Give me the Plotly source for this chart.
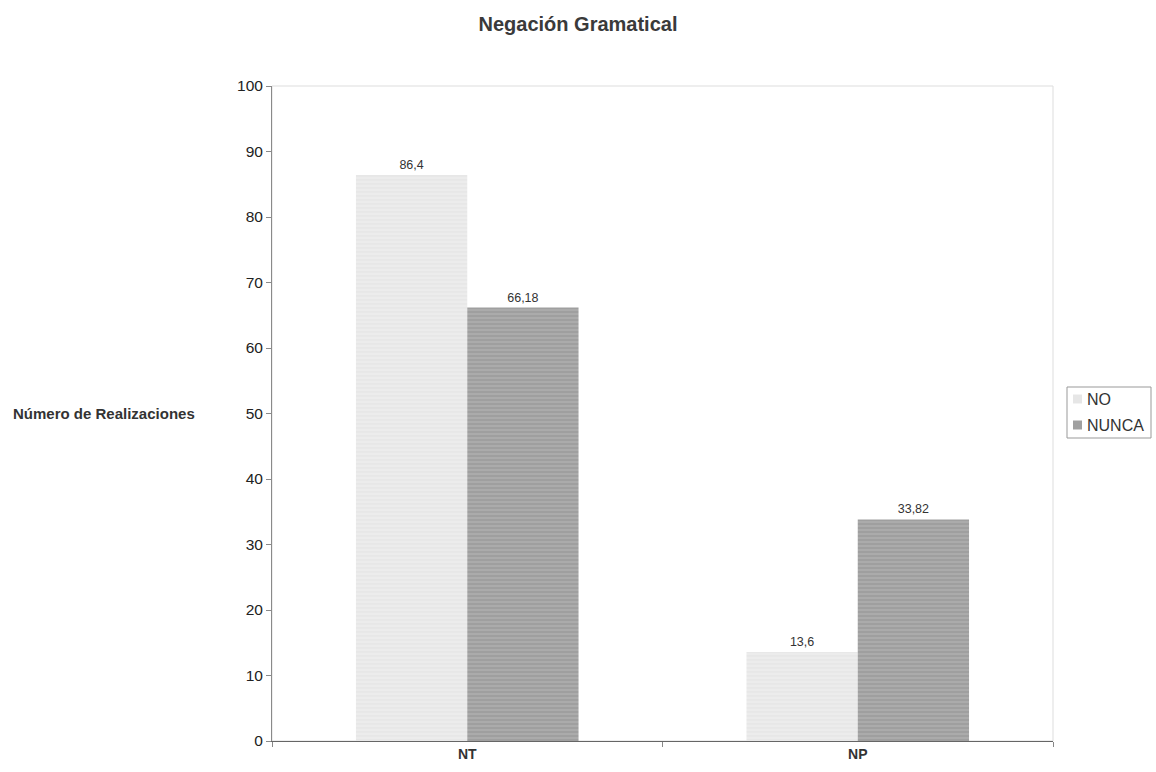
import plotly.graph_objects as go

# Categories and series values
categorias = ["NT", "NP"]
valores_no = [86.4, 13.6]
valores_nunca = [66.18, 33.82]
series = ["NO", "NUNCA"]
colores = ["#e6e6e6", "#a0a0a0"]


def etiqueta(v):
    # Decimal comma, as used in Spanish
    return f"{v:g}".replace(".", ",")


fuente = "Liberation Sans, Arial, sans-serif"

# Plot area in pixels (for placing the compact legend box)
ML, MR, MT, MB = 272, 103, 86, 31
W, H = 1156, 772
PW, PH = W - ML - MR, H - MT - MB


def px_x(p):
    return (p - ML) / PW


def px_y(p):
    return (H - MB - p) / PH


fig = go.Figure()
fig.add_trace(go.Bar(
    name=series[0], x=categorias, y=valores_no,
    text=[etiqueta(v) for v in valores_no], textposition="outside",
    textfont=dict(size=12.5, color="#333333", family=fuente),
    marker=dict(color="#e9e9e9", line=dict(width=0),
                pattern=dict(shape="-", fgcolor="#dcdcdc", bgcolor="#ececec",
                             size=4, solidity=0.3)),
    cliponaxis=False,
))
fig.add_trace(go.Bar(
    name=series[1], x=categorias, y=valores_nunca,
    text=[etiqueta(v) for v in valores_nunca], textposition="outside",
    textfont=dict(size=12.5, color="#333333", family=fuente),
    marker=dict(color="#a3a3a3", line=dict(width=0),
                pattern=dict(shape="-", fgcolor="#8c8c8c", bgcolor="#ababab",
                             size=4, solidity=0.4)),
    cliponaxis=False,
))

# Compact legend: frame, colour swatches and labels
shapes = [
    dict(type="rect", xref="paper", yref="paper", x0=0, x1=1, y0=0, y1=1,
         line=dict(color="#dddddd", width=1), layer="below"),
    dict(type="rect", xref="paper", yref="paper",
         x0=px_x(1067), x1=px_x(1151), y0=px_y(438), y1=px_y(387),
         line=dict(color="#999999", width=1), fillcolor="white"),
]
annotations = [
    dict(text="<b>Número de Realizaciones</b>", xref="paper", yref="paper",
         x=-0.096, y=0.5, xanchor="right", yanchor="middle", showarrow=False,
         font=dict(size=15, color="#333333", family=fuente)),
]
for i, (nombre, color) in enumerate(zip(series, colores)):
    yc = 399 + i * 26
    shapes.append(dict(type="rect", xref="paper", yref="paper",
                       x0=px_x(1073), x1=px_x(1082),
                       y0=px_y(yc + 4.5), y1=px_y(yc - 4.5),
                       line=dict(width=0), fillcolor=color))
    annotations.append(dict(text=nombre, xref="paper", yref="paper",
                            x=px_x(1085), y=px_y(yc), xanchor="left",
                            yanchor="middle", showarrow=False,
                            font=dict(size=16, color="#333333", family=fuente)))

fig.update_layout(
    width=W, height=H,
    margin=dict(l=ML, r=MR, t=MT, b=MB, autoexpand=False),
    paper_bgcolor="white", plot_bgcolor="white",
    barmode="group", bargap=0.43, bargroupgap=0,
    font=dict(family=fuente, color="#333333"),
    title=dict(text="<b>Negación Gramatical</b>", x=0.5, xanchor="center",
               y=1 - 24 / H, yanchor="middle",
               font=dict(size=20, color="#3a3a3a", family=fuente)),
    showlegend=False,
    shapes=shapes,
    annotations=annotations,
)

fig.update_yaxes(
    range=[0, 100], dtick=10, showgrid=False, zeroline=False,
    showline=True, linecolor="#8a8a8a", linewidth=1,
    ticks="outside", ticklen=5, tickcolor="#8a8a8a",
    tickfont=dict(size=15.5, color="#222222", family=fuente),
)
fig.update_xaxes(
    showgrid=False, showline=True, linecolor="#666666", linewidth=1,
    ticks="outside", tickson="boundaries", ticklen=5, tickcolor="#888888",
    tickfont=dict(size=14, color="#333333", family=fuente),
    tickprefix="<b>", ticksuffix="</b>",
)

fig.write_html("out.html")
